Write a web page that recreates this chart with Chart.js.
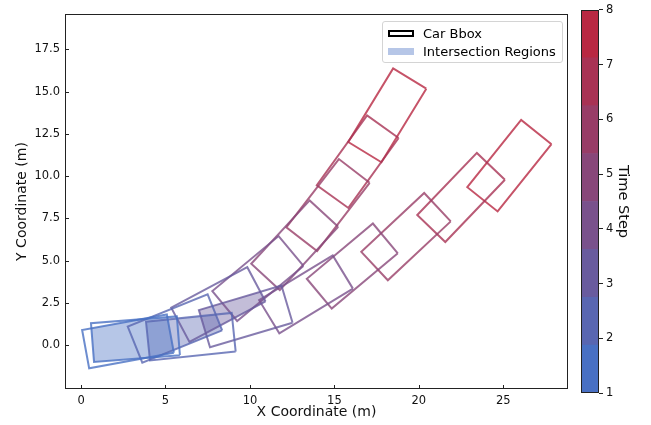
<!DOCTYPE html>
<html>
<head>
<meta charset="utf-8">
<title>Car Bbox intersections</title>
<script src="https://cdn.jsdelivr.net/npm/chart.js@4.4.1/dist/chart.umd.min.js"></script>
<style>
  html, body { margin: 0; padding: 0; background: #fff; }
  #wrap { position: relative; width: 651px; height: 425px; font-family: "DejaVu Sans", sans-serif; }
  #chart-main { position: absolute; left: 0; top: 0; }
  #chart-cbar { position: absolute; left: 570px; top: 0; }
  #legend { position: absolute; left: 382px; top: 21px; width: 181px; height: 42px; box-sizing: border-box;
            border: 1px solid #d4d4d4; border-radius: 3px; background: rgba(255,255,255,0.8); }
  #legend .patch { position: absolute; left: 5px; width: 26px; height: 7px; box-sizing: border-box; }
  #lg-box { top: 8px; border: 2px solid #000; }
  #lg-fill { top: 26px; }
  #legend .lbl { position: absolute; left: 40px; font-size: 13px; line-height: 15px; color: #000; white-space: nowrap; }
</style>
</head>
<body>
<div id="wrap">
  <canvas id="chart-main" width="651" height="425"></canvas>
  <canvas id="chart-cbar" width="81" height="425"></canvas>
  <div id="legend">
    <span class="patch" id="lg-box"></span><span class="lbl" style="top:4px">Car Bbox</span>
    <span class="patch" id="lg-fill"></span><span class="lbl" style="top:22px">Intersection Regions</span>
  </div>
</div>
<script>
(() => {
  "use strict";
  const $ = (s) => document.querySelector(s);
  const FONT = "'DejaVu Sans', sans-serif";

  // --- data (metres / degrees), one entry per time step ---
  const timeSteps = [1, 2, 3, 4, 5, 6, 7, 8];
  const carAX = [2.78, 5.56, 8.13, 10.47, 12.65, 14.62, 16.38, 18.13];
  const carAY = [0.22, 0.98, 2.40, 3.94, 5.91, 8.29, 10.86, 13.60];
  const carAHeading = [10.4, 22.0, 28.0, 39.7, 47.3, 52.4, 54.3, 58.6];
  const carBX = [3.22, 6.50, 9.75, 13.32, 16.06, 19.24, 22.50, 25.36];
  const carBY = [0.35, 0.50, 1.70, 3.00, 4.68, 6.42, 8.74, 10.62];
  const carBHeading = [4.5, 5.9, 16.6, 31.3, 39.9, 43.1, 46.2, 51.3];
  const carLength = 5.1;
  const carWidth = 2.3;

  const xTicks = [0, 5, 10, 15, 20, 25];
  const yTicks = [0, 2.5, 5, 7.5, 10, 12.5, 15, 17.5];
  const cbTicks = [1, 2, 3, 4, 5, 6, 7, 8];
  const cbBounds = [1, 1.875, 2.75, 3.625, 4.5, 5.375, 6.25, 7.125, 8];
  const stepColors = ["#4970c3", "#5966b1", "#695b9e", "#79518c", "#884779", "#983d67", "#a83254", "#b82842"];

  const xMin = -0.95, xMax = 28.83, yMin = -2.60, yMax = 19.60;

  const rgba = (hex, a) => {
    const n = parseInt(hex.slice(1), 16);
    return `rgba(${n >> 16},${(n >> 8) & 255},${n & 255},${a})`;
  };

  // corners counter-clockwise: front-right, front-left, rear-left, rear-right
  function boxCorners(cx, cy, headingDeg) {
    const a = headingDeg * Math.PI / 180;
    const ux = Math.cos(a), uy = Math.sin(a);
    const vx = -uy, vy = ux;
    const hl = carLength / 2, hw = carWidth / 2;
    return [[hl, -hw], [hl, hw], [-hl, hw], [-hl, -hw]].map(([l, w]) =>
      ({ x: cx + l * ux + w * vx, y: cy + l * uy + w * vy }));
  }

  // Sutherland-Hodgman, both polygons convex and CCW
  function clipPolygon(subject, clip) {
    let out = subject;
    for (let i = 0; i < clip.length && out.length; i++) {
      const a = clip[i], b = clip[(i + 1) % clip.length];
      const side = (p) => (b.x - a.x) * (p.y - a.y) - (b.y - a.y) * (p.x - a.x);
      const cut = (p, q) => {
        const t = side(p) / (side(p) - side(q));
        return { x: p.x + t * (q.x - p.x), y: p.y + t * (q.y - p.y) };
      };
      const input = out;
      out = [];
      input.forEach((cur, j) => {
        const prev = input[(j + input.length - 1) % input.length];
        if (side(cur) >= 0) {
          if (side(prev) < 0) out.push(cut(prev, cur));
          out.push(cur);
        } else if (side(prev) >= 0) out.push(cut(prev, cur));
      });
    }
    return out;
  }
  const closeRing = (pts) => pts.concat([pts[0]]);

  const datasets = [];
  timeSteps.forEach((t, i) => {
    const col = stepColors[i];
    const boxA = boxCorners(carAX[i], carAY[i], carAHeading[i]);
    const boxB = boxCorners(carBX[i], carBY[i], carBHeading[i]);
    [boxA, boxB].forEach((box, k) => datasets.push({
      label: `t${t} car ${k ? "B" : "A"}`,
      data: closeRing(box),
      borderColor: rgba(col, 0.8), borderWidth: 2, borderJoinStyle: "miter",
      backgroundColor: "transparent", fill: false, pointRadius: 0, tension: 0, order: 0,
    }));
    const overlap = clipPolygon(boxA, boxB);
    if (overlap.length > 2) datasets.push({
      label: `t${t} overlap`,
      data: closeRing(overlap),
      borderWidth: 0, borderColor: "transparent",
      backgroundColor: rgba(col, 0.4), fill: "shape", pointRadius: 0, tension: 0, order: 1,
    });
  });

  // frame + inward tick marks, matplotlib style
  const frameTicks = {
    id: "frameTicks",
    afterDraw(chart) {
      const { ctx, chartArea: a, scales: { x, y } } = chart;
      ctx.save();
      ctx.strokeStyle = "#222";
      ctx.lineWidth = 1;
      ctx.strokeRect(Math.round(a.left) + 0.5, Math.round(a.top) + 0.5,
                     Math.round(a.width) - 1, Math.round(a.height) - 1);
      ctx.beginPath();
      xTicks.forEach((v) => {
        const px = Math.round(x.getPixelForValue(v)) + 0.5;
        ctx.moveTo(px, a.bottom); ctx.lineTo(px, a.bottom - 4);
      });
      yTicks.forEach((v) => {
        const py = Math.round(y.getPixelForValue(v)) + 0.5;
        ctx.moveTo(a.left, py); ctx.lineTo(a.left + 4, py);
      });
      ctx.stroke();
      ctx.restore();
    },
  };

  const tickFont = { family: FONT, size: 11.5 };
  const titleFont = { family: FONT, size: 14 };

  new Chart($("#chart-main"), {
    type: "line",
    data: { datasets },
    options: {
      responsive: false, animation: false, events: [],
      layout: { padding: { left: 0, top: 14, right: 83, bottom: 0 } },
      plugins: { legend: { display: false }, tooltip: { enabled: false } },
      scales: {
        x: {
          type: "linear", min: xMin, max: xMax,
          afterBuildTicks: (s) => { s.ticks = xTicks.map((v) => ({ value: v })); },
          afterFit: (s) => { s.height = 36; },
          grid: { display: false, drawTicks: false }, border: { display: false },
          ticks: { font: tickFont, color: "#111", padding: 5, maxRotation: 0, autoSkip: false },
          title: { display: true, text: "X Coordinate (m)", font: titleFont, color: "#111",
                   padding: { top: 0, bottom: 4 } },
        },
        y: {
          type: "linear", min: yMin, max: yMax,
          afterBuildTicks: (s) => { s.ticks = yTicks.map((v) => ({ value: v })); },
          afterFit: (s) => { s.width = 65; },
          grid: { display: false, drawTicks: false }, border: { display: false },
          ticks: { font: tickFont, color: "#111", padding: 5, autoSkip: false,
                   callback: (v) => Number(v).toFixed(1) },
          title: { display: true, text: "Y Coordinate (m)", font: titleFont, color: "#111",
                   padding: { top: 14, bottom: 0 } },
        },
      },
    },
    plugins: [frameTicks],
  });

  // colorbar
  const cbFrame = {
    id: "cbFrame",
    afterDraw(chart) {
      const { ctx, chartArea: a } = chart;
      ctx.save();
      ctx.strokeStyle = "#222";
      ctx.lineWidth = 1;
      ctx.strokeRect(Math.round(a.left) + 0.5, Math.round(a.top) + 0.5,
                     Math.round(a.width) - 1, Math.round(a.height) - 1);
      ctx.restore();
    },
  };
  new Chart($("#chart-cbar"), {
    type: "bar",
    data: {
      labels: ["Time Step"],
      datasets: stepColors.map((c, i) => ({
        label: `band ${i + 1}`,
        data: [[cbBounds[i], cbBounds[i + 1]]],
        backgroundColor: c, borderWidth: 0, grouped: false,
        barPercentage: 1, categoryPercentage: 1,
      })),
    },
    options: {
      responsive: false, animation: false, events: [],
      layout: { padding: { left: 11, top: 7, right: 0, bottom: 32 } },
      plugins: { legend: { display: false }, tooltip: { enabled: false } },
      scales: {
        x: { display: false },
        y: {
          position: "right", min: 1, max: 8,
          afterBuildTicks: (s) => { s.ticks = cbTicks.map((v) => ({ value: v })); },
          afterFit: (s) => { s.width = 52; },
          grid: { drawOnChartArea: false, tickLength: 4, color: "#222" },
          border: { display: false },
          ticks: { font: tickFont, color: "#111", padding: 3 },
          title: { display: true, text: "Time Step", font: { family: FONT, size: 14.5 }, color: "#111",
                   padding: { top: 20, bottom: 0 } },
        },
      },
    },
    plugins: [cbFrame],
  });

  $("#lg-fill").style.background = rgba(stepColors[0], 0.4);
})();
</script>
</body>
</html>
